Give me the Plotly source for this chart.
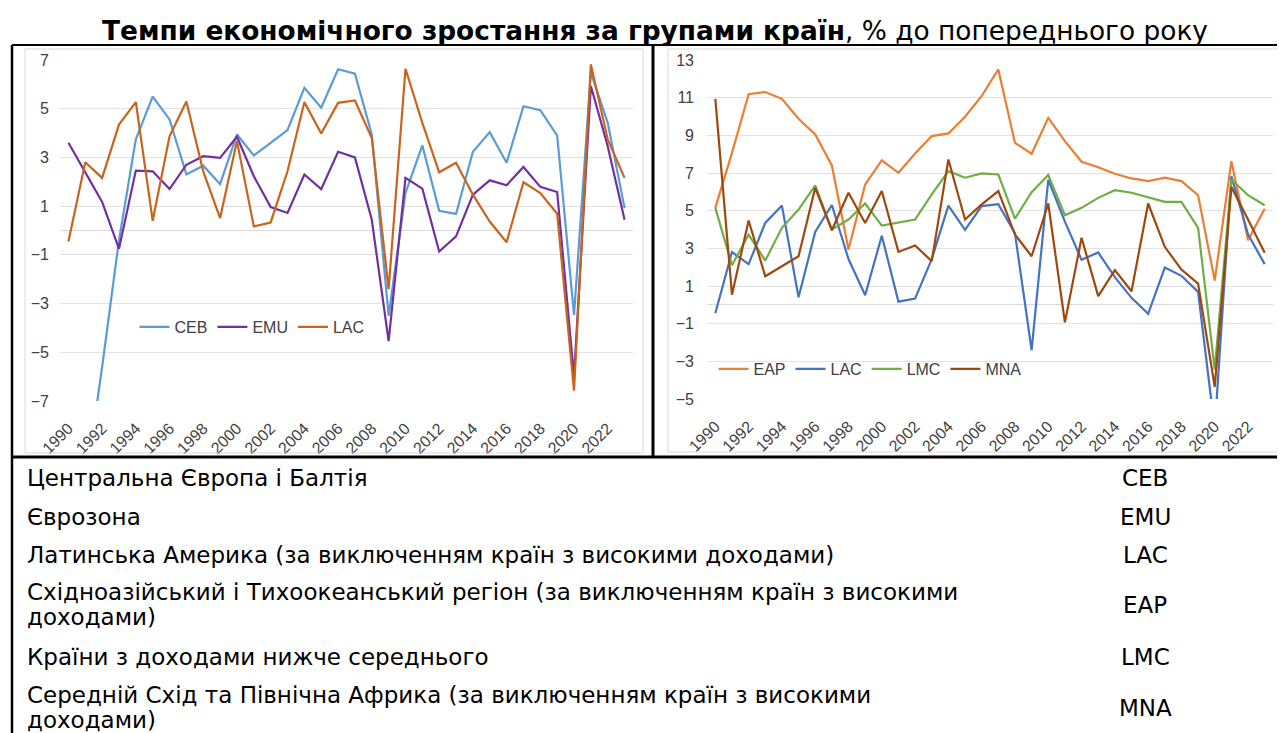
import plotly.graph_objects as go

W, H = 1285, 733
OFF = 8  # page body margin compensation

years = [1990, 1991, 1992, 1993, 1994, 1995, 1996, 1997, 1998, 1999,
         2000, 2001, 2002, 2003, 2004, 2005, 2006, 2007, 2008, 2009,
         2010, 2011, 2012, 2013, 2014, 2015, 2016, 2017, 2018, 2019,
         2020, 2021, 2022, 2023]
year_ticks = [1990, 1992, 1994, 1996, 1998, 2000, 2002, 2004, 2006, 2008,
              2010, 2012, 2014, 2016, 2018, 2020, 2022]

CEB = [-7.5, -10.5, -5.6, -0.4, 3.74, 5.5, 4.56, 2.3, 2.66, 1.9,
       3.94, 3.08, 3.6, 4.12, 5.86, 5.04, 6.62, 6.44, 3.94, -3.5,
       1.54, 3.49, 0.81, 0.68, 3.23, 4.04, 2.78, 5.1, 4.94, 3.9,
       -3.47, 6.48, 4.42, 0.92]
EMU = [3.6, 2.36, 1.17, -0.75, 2.46, 2.43, 1.7, 2.7, 3.05, 2.98,
       3.85, 2.23, 0.96, 0.72, 2.3, 1.7, 3.23, 3.0, 0.44, -4.54,
       2.16, 1.72, -0.86, -0.24, 1.47, 2.06, 1.86, 2.61, 1.79, 1.58,
       -6.0, 5.93, 3.46, 0.44]
LAC = [-0.45, 2.8, 2.16, 4.35, 5.27, 0.4, 3.87, 5.3, 2.43, 0.51,
       3.67, 0.17, 0.33, 2.43, 5.27, 3.98, 5.24, 5.34, 3.8, -2.41,
       6.64, 4.42, 2.39, 2.78, 1.47, 0.37, -0.48, 1.98, 1.54, 0.69,
       -6.58, 6.82, 3.74, 2.16]
EAP = [5.15, 8.07, 11.18, 11.3, 10.94, 9.88, 9.05, 7.4, 2.94, 6.39,
       7.67, 7.01, 8.04, 8.96, 9.1, 9.99, 11.09, 12.5, 8.6, 8.02,
       9.93, 8.69, 7.6, 7.31, 6.96, 6.71, 6.57, 6.75, 6.57, 5.82,
       1.29, 7.63, 3.43, 5.1]
LMC = [5.15, 2.1, 3.73, 2.35, 4.09, 5.06, 6.34, 4.0, 4.53, 5.38,
       4.21, 4.35, 4.53, 5.86, 7.1, 6.75, 6.98, 6.92, 4.58, 5.98,
       6.89, 4.76, 5.15, 5.68, 6.09, 5.95, 5.72, 5.47, 5.47, 4.09,
       -3.44, 6.66, 5.82, 5.29]
MNA = [10.94, 0.54, 4.48, 1.52, 2.05, 2.58, 6.21, 3.96, 5.95, 4.35,
       6.04, 2.81, 3.15, 2.32, 7.72, 4.53, 5.33, 6.04, 3.73, 2.58,
       5.38, -0.93, 3.56, 0.46, 1.84, 0.72, 5.38, 3.08, 1.87, 1.13,
       -4.36, 6.25, 4.53, 2.76]

left_series = [("CEB", CEB, "#5B9BD5"), ("EMU", EMU, "#7030A0"), ("LAC", LAC, "#C9641E")]
right_series = [("EAP", EAP, "#ED7D31"), ("LAC", LAC, "#4472C4"),
                ("LMC", LMC, "#70AD47"), ("MNA", MNA, "#9E480E")]

title_bold = "Темпи економічного зростання за групами країн"
title_rest = ", % до попереднього року"

table_names = [
    ["Центральна Європа і Балтія"],
    ["Єврозона"],
    ["Латинська Америка (за виключенням країн з високими доходами)"],
    ["Східноазійський і Тихоокеанський регіон (за виключенням країн з високими", "доходами)"],
    ["Країни з доходами нижче середнього"],
    ["Середній Схід та Північна Африка (за виключенням країн з високими", "доходами)"],
]
table_codes = ["CEB", "EMU", "LAC", "EAP", "LMC", "MNA"]


def px(x):
    return (x - OFF) / W


def py(y):
    return 1 - (y - OFF) / H


fig = go.Figure()
for name, vals, col in left_series:
    fig.add_trace(go.Scatter(x=years, y=vals, name=name, mode="lines",
                             line=dict(color=col, width=2.2),
                             xaxis="x", yaxis="y", legend="legend"))
for name, vals, col in right_series:
    fig.add_trace(go.Scatter(x=years, y=vals, name=name, mode="lines",
                             line=dict(color=col, width=2.2),
                             xaxis="x2", yaxis="y2", legend="legend2"))

tick_font = dict(family="Liberation Sans, Arial", size=16, color="#404040")
xcommon = dict(range=[1989.5, 2023.5], tickmode="array", tickvals=year_ticks,
               ticktext=[str(t) for t in year_ticks], tickangle=-45,
               showgrid=False, zeroline=False, showline=False, ticks="",
               ticklabelstandoff=14,
               tickfont=dict(family="Liberation Sans, Arial", size=16, color="#404040"),
               automargin=False, fixedrange=True)
ycommon = dict(dtick=2, showgrid=True, gridcolor="#E3E3E3", gridwidth=1,
               zeroline=True, zerolinecolor="#D9D9D9", zerolinewidth=1,
               showline=False, ticks="", tickfont=tick_font,
               automargin=False, fixedrange=True)

fig.update_layout(
    width=W, height=H,
    margin=dict(l=0, r=0, t=0, b=0, autoexpand=False),
    paper_bgcolor="white", plot_bgcolor="white",
    showlegend=True,
    xaxis=dict(domain=[px(60), px(633)], anchor="y", **xcommon),
    yaxis=dict(domain=[py(401), py(60)], range=[-7, 7], tick0=1, anchor="x",
               ticklabelstandoff=10, **ycommon),
    xaxis2=dict(domain=[px(707), px(1273)], anchor="y2", **xcommon),
    yaxis2=dict(domain=[py(399), py(60)], range=[-5, 13], tick0=1, anchor="x2",
                ticklabelstandoff=12, **ycommon),
    legend=dict(orientation="h", x=px(252), y=py(327), xanchor="center", yanchor="middle",
                font=dict(family="Liberation Sans, Arial", size=16, color="#404040"),
                bgcolor="rgba(0,0,0,0)", itemwidth=30, tracegroupgap=0),
    legend2=dict(orientation="h", x=px(870), y=py(369), xanchor="center", yanchor="middle",
                 font=dict(family="Liberation Sans, Arial", size=16, color="#404040"),
                 bgcolor="rgba(0,0,0,0)", itemwidth=30, tracegroupgap=0),
)

shapes = []
# light grey chart-area borders
shapes.append(dict(type="rect", xref="paper", yref="paper", x0=px(25), x1=px(643),
                   y0=py(453), y1=py(49), line=dict(color="#D9D9D9", width=1)))
shapes.append(dict(type="rect", xref="paper", yref="paper", x0=px(668), x1=px(1283),
                   y0=py(452), y1=py(49), line=dict(color="#D9D9D9", width=1)))
# black frame lines
for x0, y0, x1, y1, w in [(12, 45, 1293, 45, 2), (12, 45, 12, 741, 2.5),
                          (653, 45, 653, 457, 3), (12, 457, 1293, 457, 3)]:
    shapes.append(dict(type="line", xref="paper", yref="paper",
                       x0=px(x0), y0=py(y0), x1=px(x1), y1=py(y1),
                       line=dict(color="black", width=w)))
fig.update_layout(shapes=shapes)

ann = []
ann.append(dict(text="<b>" + title_bold + "</b>" + title_rest, x=px(655), y=py(30),
                xref="paper", yref="paper", xanchor="center", yanchor="middle",
                showarrow=False, font=dict(family="DejaVu Sans", size=26.4, color="black")))

row_centers = [478, 517, 555, 604.5, 657, 707.5]
line_gap = 25
tfont = dict(family="DejaVu Sans", size=23, color="black")
for names, code, yc in zip(table_names, table_codes, row_centers):
    n = len(names)
    for i, t in enumerate(names):
        yy = yc + (i - (n - 1) / 2) * line_gap
        ann.append(dict(text=t, x=px(25), y=py(yy), xref="paper", yref="paper",
                        xanchor="left", yanchor="middle", showarrow=False, font=tfont))
    ann.append(dict(text=code, x=px(1145), y=py(yc), xref="paper", yref="paper",
                    xanchor="center", yanchor="middle", showarrow=False, font=tfont))
fig.update_layout(annotations=ann)

fig.write_html("out.html")
